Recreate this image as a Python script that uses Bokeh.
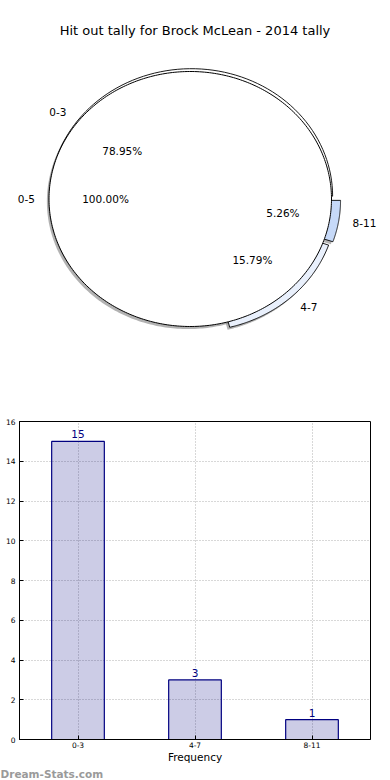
import numpy as np
from bokeh.plotting import figure
from bokeh.models import Range1d, FactorRange, Label, FixedTicker, ColumnDataSource, LabelSet, Title
from bokeh.embed import file_html
from bokeh.resources import INLINE
from bokeh.core.properties import value

# ---------------- data ----------------
chart_title = "Hit out tally for Brock McLean - 2014 tally"
inner_labels = ["0-5"]
inner_values = [19]
outer_labels = ["0-3", "4-7", "8-11"]
outer_values = [15, 3, 1]
bar_categories = ["0-3", "4-7", "8-11"]
bar_values = [15, 3, 1]
y_ticks = [0, 2, 4, 6, 8, 10, 12, 14, 16]
x_axis_label = "Frequency"
watermark = "Dream-Stats.com"

# ---------------- style ----------------
FONT = "DejaVu Sans"
outer_colors = ["#ffffff", "#e9f0fc", "#c6d9f8"]
outer_explode = [0.01, 0.05, 0.065]          # used for label placement / offsets
wedge_offsets = [(0.008, 0.022), None, None]  # None -> along mid angle
shadow_off = (-0.015, -0.02)

W = 390
PIE_H = 408
BAR_H = 371
CX, CY = 189.75, 198.5      # pie centre in pie-figure pixels (from top)
RX, RY = 141.25, 127.5      # ellipse radii in pixels
CYB = PIE_H - CY            # centre measured from bottom


def to_px(u, v):
    return CX + RX * np.asarray(u), CYB + RY * np.asarray(v)


def wedge(a0, a1, r=1.0, ox=0.0, oy=0.0, n=120):
    t = np.radians(np.linspace(a0, a1, n))
    xs = np.concatenate([[ox], ox + r * np.cos(t), [ox]])
    ys = np.concatenate([[oy], oy + r * np.sin(t), [oy]])
    return to_px(xs, ys)


def disk(r=1.0, ox=0.0, oy=0.0, n=360):
    t = np.radians(np.linspace(0, 360, n))
    return to_px(ox + r * np.cos(t), oy + r * np.sin(t))


pie = figure(width=W, height=PIE_H, output_backend="svg", toolbar_location=None,
             x_range=Range1d(0, W), y_range=Range1d(0, PIE_H),
             x_axis_location=None, y_axis_location=None,
             min_border=0, outline_line_color=None)
pie.grid.visible = False

# inner shadow
sx, sy = disk(1.0, *shadow_off)
pie.patch(sx, sy, fill_color="#7f7f7f", fill_alpha=0.6, line_color=None)

# outer wedges
tot = sum(outer_values)
angles = np.concatenate([[0], np.cumsum(outer_values) / tot * 360.0])
offs = []
for i in range(len(outer_values)):
    a0, a1 = angles[i], angles[i + 1]
    mid = np.radians((a0 + a1) / 2)
    if wedge_offsets[i] is None:
        ox, oy = outer_explode[i] * np.cos(mid), outer_explode[i] * np.sin(mid)
    else:
        ox, oy = wedge_offsets[i]
    offs.append((float(ox), float(oy)))
for i in range(len(outer_values)):
    a0, a1 = angles[i], angles[i + 1]
    ox, oy = offs[i]
    xs, ys = wedge(a0, a1, 1.0, ox + shadow_off[0], oy + shadow_off[1])
    pie.patch(xs, ys, fill_color="#7f7f7f", fill_alpha=0.6, line_color=None)
for i in range(len(outer_values)):
    a0, a1 = angles[i], angles[i + 1]
    ox, oy = offs[i]
    xs, ys = wedge(a0, a1, 1.0, ox, oy)
    pie.patch(xs, ys, fill_color=outer_colors[i], line_color="black", line_width=0.9)

# inner pie (single wedge, 100%)
ix, iy = disk(1.0)
pie.patch(ix, iy, fill_color="white", line_color="black", line_width=1)


def add_text(u, v, t, align):
    x, y = to_px(u, v)
    pie.add_layout(Label(x=float(x), y=float(y), text=t, text_align=align, text_baseline="middle",
                         text_font=FONT, text_font_size="10.5px", text_color="black"))


itot = sum(inner_values)
ia = np.concatenate([[0], np.cumsum(inner_values) / itot * 360.0])
for i, (lab, v) in enumerate(zip(inner_labels, inner_values)):
    mid = np.radians((ia[i] + ia[i + 1]) / 2)
    c, s = np.cos(mid), np.sin(mid)
    add_text(1.1 * c, 1.1 * s, lab, "left" if c > 0 else "right")
    add_text(0.6 * c, 0.6 * s, f"{v / itot * 100:.2f}%", "center")

for i, (lab, v) in enumerate(zip(outer_labels, outer_values)):
    mid = np.radians((angles[i] + angles[i + 1]) / 2)
    c, s = np.cos(mid), np.sin(mid)
    e = outer_explode[i]
    add_text((1.1 + e) * c, (1.1 + e) * s, lab, "left" if c > 0 else "right")
    add_text((0.6 + e) * c, (0.6 + e) * s, f"{v / tot * 100:.2f}%", "center")

pie.add_layout(Label(x=194.5, y=PIE_H - 30, text=chart_title,
                     text_align="center", text_baseline="middle",
                     text_font=FONT, text_font_size="13px", text_color="black"))

# ---------------- bar chart ----------------
bar = figure(width=W, height=BAR_H, output_backend="svg", toolbar_location=None,
             x_range=FactorRange(*bar_categories), y_range=Range1d(0, 16),
             min_border_left=19, min_border_right=20, min_border_top=13, min_border_bottom=38)
bar.vbar(x=bar_categories, top=bar_values, width=0.45, fill_color="navy", fill_alpha=0.2,
         line_color="navy", line_width=1.2)
src = ColumnDataSource(dict(x=bar_categories, y=bar_values, t=[str(v) for v in bar_values]))
bar.add_layout(LabelSet(x="x", y="y", text="t", source=src, y_offset=3,
                        text_align="center", text_baseline="bottom",
                        text_font=value(FONT), text_font_size="10.5px", text_color="navy"))

bar.outline_line_color = "black"
bar.outline_line_width = 1
bar.outline_line_alpha = 1
for ax in (bar.xaxis, bar.yaxis):
    ax.major_tick_in = 4
    ax.major_tick_out = 0
    ax.minor_tick_line_color = None
    ax.axis_line_color = "black"
    ax.major_label_text_font = FONT
    ax.major_label_text_font_size = "7.5px"
    ax.major_label_text_color = "black"
bar.yaxis.ticker = FixedTicker(ticks=y_ticks)
bar.yaxis.major_label_standoff = 4
bar.xaxis.major_label_standoff = 2
bar.xaxis.axis_label = x_axis_label
bar.xaxis.axis_label_text_font = FONT
bar.xaxis.axis_label_text_font_size = "10.5px"
bar.xaxis.axis_label_text_font_style = "normal"
bar.xaxis.axis_label_text_color = "black"
bar.xaxis.axis_label_standoff = 0
bar.grid.grid_line_color = "#b0b0b0"
bar.grid.grid_line_dash = "1 2"
bar.grid.grid_line_width = 1

bar.add_layout(Title(text=watermark, align="left", offset=-19, standoff=0,
                     text_font=FONT, text_font_size="10.5px", text_font_style="bold",
                     text_color="#9a9a9a"), "below")

# two independent roots: the pie frame is not aligned to the bar frame
open("out.html", "w").write(file_html([pie, bar], INLINE))
